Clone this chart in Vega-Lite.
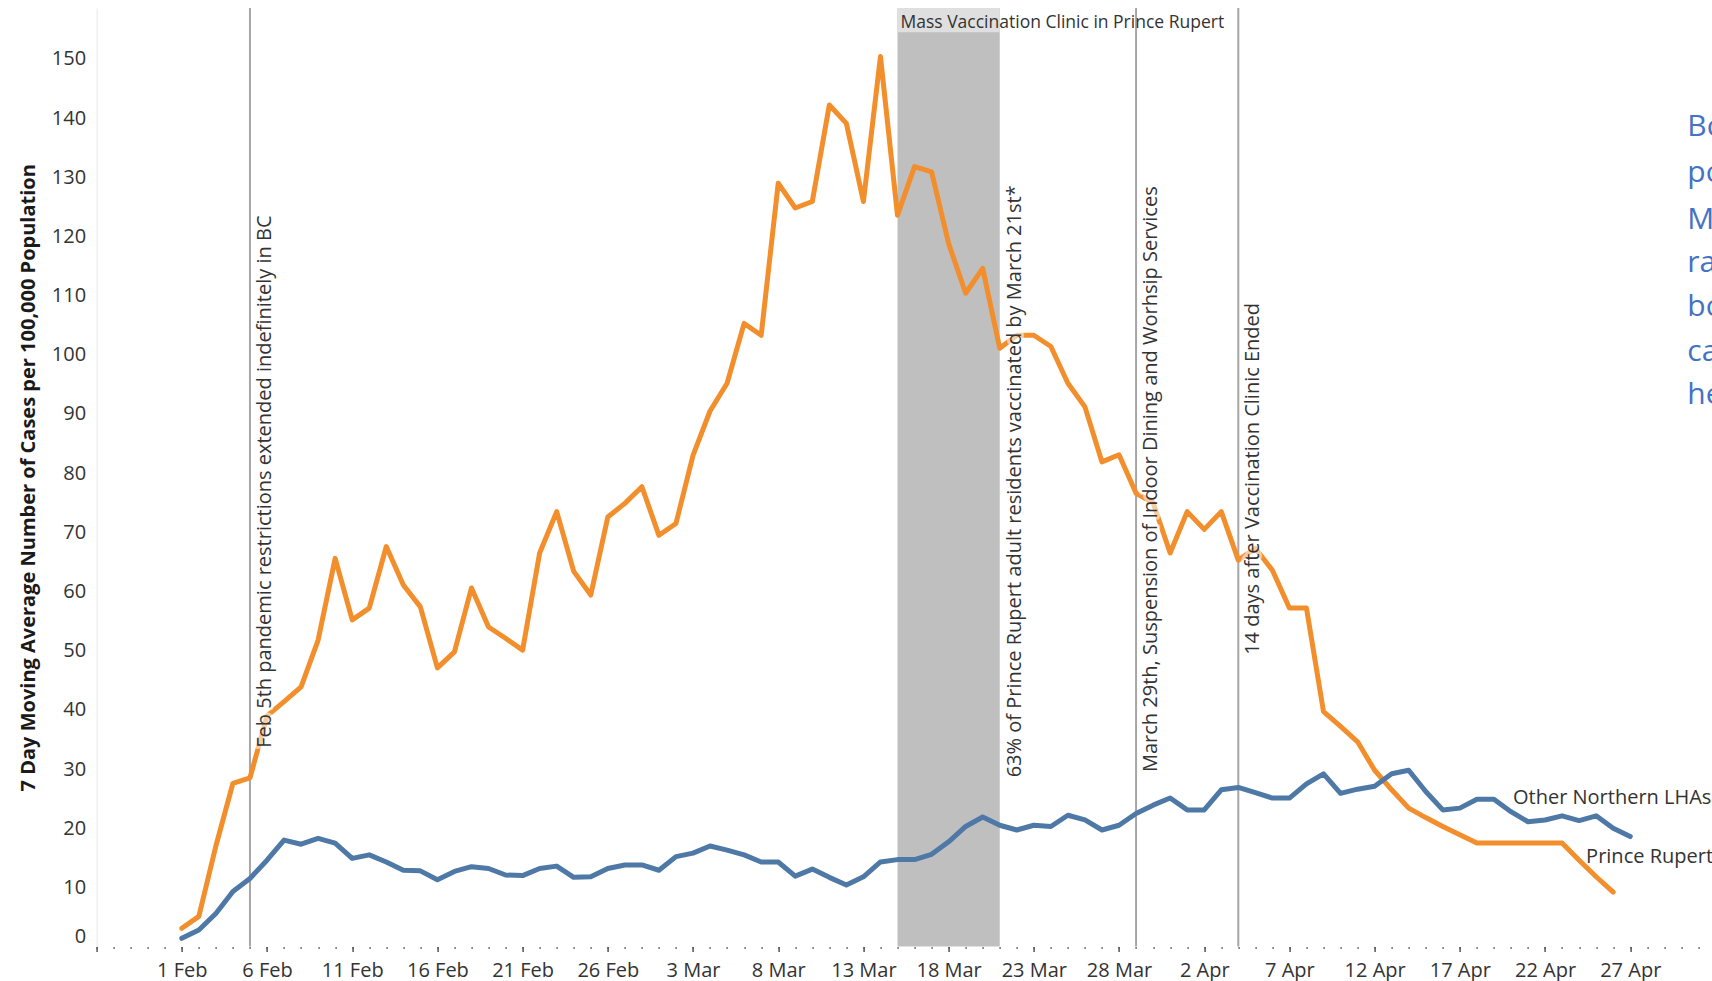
{
  "$schema": "https://vega.github.io/schema/vega-lite/v6.json",
  "width": 1601.8,
  "height": 938.6,
  "autosize": {"type": "none"},
  "padding": {"left": 96.6, "top": 8, "right": 13.6, "bottom": 34.4},
  "background": "white",
  "config": {"view": {"stroke": null}, "font": "Open Sans"},
  "datasets": {
    "cases": [
      {"date":"2021-02-01","series":"Prince Rupert","value":3.1},
      {"date":"2021-02-02","series":"Prince Rupert","value":5.1},
      {"date":"2021-02-03","series":"Prince Rupert","value":17},
      {"date":"2021-02-04","series":"Prince Rupert","value":27.6},
      {"date":"2021-02-05","series":"Prince Rupert","value":28.5},
      {"date":"2021-02-06","series":"Prince Rupert","value":39},
      {"date":"2021-02-07","series":"Prince Rupert","value":41.4},
      {"date":"2021-02-08","series":"Prince Rupert","value":43.9},
      {"date":"2021-02-09","series":"Prince Rupert","value":51.8},
      {"date":"2021-02-10","series":"Prince Rupert","value":65.6},
      {"date":"2021-02-11","series":"Prince Rupert","value":55.2},
      {"date":"2021-02-12","series":"Prince Rupert","value":57.2},
      {"date":"2021-02-13","series":"Prince Rupert","value":67.6},
      {"date":"2021-02-14","series":"Prince Rupert","value":61.1},
      {"date":"2021-02-15","series":"Prince Rupert","value":57.4},
      {"date":"2021-02-16","series":"Prince Rupert","value":47.1},
      {"date":"2021-02-17","series":"Prince Rupert","value":49.8},
      {"date":"2021-02-18","series":"Prince Rupert","value":60.6},
      {"date":"2021-02-19","series":"Prince Rupert","value":54},
      {"date":"2021-02-20","series":"Prince Rupert","value":52.1},
      {"date":"2021-02-21","series":"Prince Rupert","value":50.1},
      {"date":"2021-02-22","series":"Prince Rupert","value":66.5},
      {"date":"2021-02-23","series":"Prince Rupert","value":73.5},
      {"date":"2021-02-24","series":"Prince Rupert","value":63.4},
      {"date":"2021-02-25","series":"Prince Rupert","value":59.4},
      {"date":"2021-02-26","series":"Prince Rupert","value":72.6},
      {"date":"2021-02-27","series":"Prince Rupert","value":74.9},
      {"date":"2021-02-28","series":"Prince Rupert","value":77.7},
      {"date":"2021-03-01","series":"Prince Rupert","value":69.5},
      {"date":"2021-03-02","series":"Prince Rupert","value":71.5},
      {"date":"2021-03-03","series":"Prince Rupert","value":83},
      {"date":"2021-03-04","series":"Prince Rupert","value":90.5},
      {"date":"2021-03-05","series":"Prince Rupert","value":95.2},
      {"date":"2021-03-06","series":"Prince Rupert","value":105.3},
      {"date":"2021-03-07","series":"Prince Rupert","value":103.3},
      {"date":"2021-03-08","series":"Prince Rupert","value":129},
      {"date":"2021-03-09","series":"Prince Rupert","value":124.8},
      {"date":"2021-03-10","series":"Prince Rupert","value":125.9},
      {"date":"2021-03-11","series":"Prince Rupert","value":142.2},
      {"date":"2021-03-12","series":"Prince Rupert","value":139.1},
      {"date":"2021-03-13","series":"Prince Rupert","value":125.9},
      {"date":"2021-03-14","series":"Prince Rupert","value":150.4},
      {"date":"2021-03-15","series":"Prince Rupert","value":123.6},
      {"date":"2021-03-16","series":"Prince Rupert","value":131.8},
      {"date":"2021-03-17","series":"Prince Rupert","value":130.9},
      {"date":"2021-03-18","series":"Prince Rupert","value":118.8},
      {"date":"2021-03-19","series":"Prince Rupert","value":110.4},
      {"date":"2021-03-20","series":"Prince Rupert","value":114.6},
      {"date":"2021-03-21","series":"Prince Rupert","value":101.1},
      {"date":"2021-03-22","series":"Prince Rupert","value":103.3},
      {"date":"2021-03-23","series":"Prince Rupert","value":103.3},
      {"date":"2021-03-24","series":"Prince Rupert","value":101.4},
      {"date":"2021-03-25","series":"Prince Rupert","value":95.2},
      {"date":"2021-03-26","series":"Prince Rupert","value":91.2},
      {"date":"2021-03-27","series":"Prince Rupert","value":81.9},
      {"date":"2021-03-28","series":"Prince Rupert","value":83.1},
      {"date":"2021-03-29","series":"Prince Rupert","value":76.6},
      {"date":"2021-03-30","series":"Prince Rupert","value":75},
      {"date":"2021-03-31","series":"Prince Rupert","value":66.5},
      {"date":"2021-04-01","series":"Prince Rupert","value":73.5},
      {"date":"2021-04-02","series":"Prince Rupert","value":70.5},
      {"date":"2021-04-03","series":"Prince Rupert","value":73.5},
      {"date":"2021-04-04","series":"Prince Rupert","value":65.3},
      {"date":"2021-04-05","series":"Prince Rupert","value":67.3},
      {"date":"2021-04-06","series":"Prince Rupert","value":63.6},
      {"date":"2021-04-07","series":"Prince Rupert","value":57.2},
      {"date":"2021-04-08","series":"Prince Rupert","value":57.2},
      {"date":"2021-04-09","series":"Prince Rupert","value":39.7},
      {"date":"2021-04-10","series":"Prince Rupert","value":37.2},
      {"date":"2021-04-11","series":"Prince Rupert","value":34.6},
      {"date":"2021-04-12","series":"Prince Rupert","value":29.8},
      {"date":"2021-04-13","series":"Prince Rupert","value":26.5},
      {"date":"2021-04-14","series":"Prince Rupert","value":23.4},
      {"date":"2021-04-15","series":"Prince Rupert","value":21.8},
      {"date":"2021-04-16","series":"Prince Rupert","value":20.3},
      {"date":"2021-04-17","series":"Prince Rupert","value":18.9},
      {"date":"2021-04-18","series":"Prince Rupert","value":17.5},
      {"date":"2021-04-19","series":"Prince Rupert","value":17.5},
      {"date":"2021-04-20","series":"Prince Rupert","value":17.5},
      {"date":"2021-04-21","series":"Prince Rupert","value":17.5},
      {"date":"2021-04-22","series":"Prince Rupert","value":17.5},
      {"date":"2021-04-23","series":"Prince Rupert","value":17.5},
      {"date":"2021-04-24","series":"Prince Rupert","value":14.6},
      {"date":"2021-04-25","series":"Prince Rupert","value":11.8},
      {"date":"2021-04-26","series":"Prince Rupert","value":9.2},
      {"date":"2021-02-01","series":"Other Northern LHAs","value":1.4},
      {"date":"2021-02-02","series":"Other Northern LHAs","value":2.8},
      {"date":"2021-02-03","series":"Other Northern LHAs","value":5.6},
      {"date":"2021-02-04","series":"Other Northern LHAs","value":9.3},
      {"date":"2021-02-05","series":"Other Northern LHAs","value":11.5},
      {"date":"2021-02-06","series":"Other Northern LHAs","value":14.6},
      {"date":"2021-02-07","series":"Other Northern LHAs","value":18},
      {"date":"2021-02-08","series":"Other Northern LHAs","value":17.3},
      {"date":"2021-02-09","series":"Other Northern LHAs","value":18.3},
      {"date":"2021-02-10","series":"Other Northern LHAs","value":17.5},
      {"date":"2021-02-11","series":"Other Northern LHAs","value":14.9},
      {"date":"2021-02-12","series":"Other Northern LHAs","value":15.5},
      {"date":"2021-02-13","series":"Other Northern LHAs","value":14.3},
      {"date":"2021-02-14","series":"Other Northern LHAs","value":12.9},
      {"date":"2021-02-15","series":"Other Northern LHAs","value":12.8},
      {"date":"2021-02-16","series":"Other Northern LHAs","value":11.3},
      {"date":"2021-02-17","series":"Other Northern LHAs","value":12.7},
      {"date":"2021-02-18","series":"Other Northern LHAs","value":13.5},
      {"date":"2021-02-19","series":"Other Northern LHAs","value":13.2},
      {"date":"2021-02-20","series":"Other Northern LHAs","value":12.1},
      {"date":"2021-02-21","series":"Other Northern LHAs","value":12},
      {"date":"2021-02-22","series":"Other Northern LHAs","value":13.2},
      {"date":"2021-02-23","series":"Other Northern LHAs","value":13.6},
      {"date":"2021-02-24","series":"Other Northern LHAs","value":11.7},
      {"date":"2021-02-25","series":"Other Northern LHAs","value":11.8},
      {"date":"2021-02-26","series":"Other Northern LHAs","value":13.2},
      {"date":"2021-02-27","series":"Other Northern LHAs","value":13.8},
      {"date":"2021-02-28","series":"Other Northern LHAs","value":13.8},
      {"date":"2021-03-01","series":"Other Northern LHAs","value":12.9},
      {"date":"2021-03-02","series":"Other Northern LHAs","value":15.2},
      {"date":"2021-03-03","series":"Other Northern LHAs","value":15.8},
      {"date":"2021-03-04","series":"Other Northern LHAs","value":17},
      {"date":"2021-03-05","series":"Other Northern LHAs","value":16.3},
      {"date":"2021-03-06","series":"Other Northern LHAs","value":15.5},
      {"date":"2021-03-07","series":"Other Northern LHAs","value":14.3},
      {"date":"2021-03-08","series":"Other Northern LHAs","value":14.3},
      {"date":"2021-03-09","series":"Other Northern LHAs","value":11.9},
      {"date":"2021-03-10","series":"Other Northern LHAs","value":13.1},
      {"date":"2021-03-11","series":"Other Northern LHAs","value":11.7},
      {"date":"2021-03-12","series":"Other Northern LHAs","value":10.4},
      {"date":"2021-03-13","series":"Other Northern LHAs","value":11.8},
      {"date":"2021-03-14","series":"Other Northern LHAs","value":14.3},
      {"date":"2021-03-15","series":"Other Northern LHAs","value":14.7},
      {"date":"2021-03-16","series":"Other Northern LHAs","value":14.7},
      {"date":"2021-03-17","series":"Other Northern LHAs","value":15.6},
      {"date":"2021-03-18","series":"Other Northern LHAs","value":17.7},
      {"date":"2021-03-19","series":"Other Northern LHAs","value":20.3},
      {"date":"2021-03-20","series":"Other Northern LHAs","value":21.9},
      {"date":"2021-03-21","series":"Other Northern LHAs","value":20.5},
      {"date":"2021-03-22","series":"Other Northern LHAs","value":19.7},
      {"date":"2021-03-23","series":"Other Northern LHAs","value":20.5},
      {"date":"2021-03-24","series":"Other Northern LHAs","value":20.3},
      {"date":"2021-03-25","series":"Other Northern LHAs","value":22.2},
      {"date":"2021-03-26","series":"Other Northern LHAs","value":21.4},
      {"date":"2021-03-27","series":"Other Northern LHAs","value":19.7},
      {"date":"2021-03-28","series":"Other Northern LHAs","value":20.5},
      {"date":"2021-03-29","series":"Other Northern LHAs","value":22.5},
      {"date":"2021-03-30","series":"Other Northern LHAs","value":23.9},
      {"date":"2021-03-31","series":"Other Northern LHAs","value":25.1},
      {"date":"2021-04-01","series":"Other Northern LHAs","value":23.1},
      {"date":"2021-04-02","series":"Other Northern LHAs","value":23.1},
      {"date":"2021-04-03","series":"Other Northern LHAs","value":26.5},
      {"date":"2021-04-04","series":"Other Northern LHAs","value":26.9},
      {"date":"2021-04-05","series":"Other Northern LHAs","value":26},
      {"date":"2021-04-06","series":"Other Northern LHAs","value":25.1},
      {"date":"2021-04-07","series":"Other Northern LHAs","value":25.1},
      {"date":"2021-04-08","series":"Other Northern LHAs","value":27.5},
      {"date":"2021-04-09","series":"Other Northern LHAs","value":29.2},
      {"date":"2021-04-10","series":"Other Northern LHAs","value":25.9},
      {"date":"2021-04-11","series":"Other Northern LHAs","value":26.6},
      {"date":"2021-04-12","series":"Other Northern LHAs","value":27.1},
      {"date":"2021-04-13","series":"Other Northern LHAs","value":29.2},
      {"date":"2021-04-14","series":"Other Northern LHAs","value":29.8},
      {"date":"2021-04-15","series":"Other Northern LHAs","value":26.2},
      {"date":"2021-04-16","series":"Other Northern LHAs","value":23.1},
      {"date":"2021-04-17","series":"Other Northern LHAs","value":23.4},
      {"date":"2021-04-18","series":"Other Northern LHAs","value":24.9},
      {"date":"2021-04-19","series":"Other Northern LHAs","value":24.9},
      {"date":"2021-04-20","series":"Other Northern LHAs","value":22.8},
      {"date":"2021-04-21","series":"Other Northern LHAs","value":21.1},
      {"date":"2021-04-22","series":"Other Northern LHAs","value":21.4},
      {"date":"2021-04-23","series":"Other Northern LHAs","value":22.1},
      {"date":"2021-04-24","series":"Other Northern LHAs","value":21.3},
      {"date":"2021-04-25","series":"Other Northern LHAs","value":22.1},
      {"date":"2021-04-26","series":"Other Northern LHAs","value":20},
      {"date":"2021-04-27","series":"Other Northern LHAs","value":18.6}
    ],
    "clinic": [{"start":"2021-03-15","end":"2021-03-21","label":"Mass Vaccination Clinic in Prince Rupert","value":156.1}],
    "events": [{"date":"2021-02-05"},{"date":"2021-03-29"},{"date":"2021-04-04"}],
    "notes": [
      {"date":"2021-02-05","value":33.6,"label":"Feb 5th pandemic restrictions extended indefinitely in BC"},
      {"date":"2021-03-21","value":28.6,"label":"63% of Prince Rupert adult residents vaccinated by March 21st*"},
      {"date":"2021-03-29","value":29.5,"label":"March 29th, Suspension of Indoor Dining and Worhsip Services"},
      {"date":"2021-04-04","value":49.3,"label":"14 days after Vaccination Clinic Ended"}
    ],
    "side": [
      {"date":"2021-04-30","value":138.5,"label":"Bo"},
      {"date":"2021-04-30","value":130.7,"label":"po"},
      {"date":"2021-04-30","value":122.8,"label":"M"},
      {"date":"2021-04-30","value":115.5,"label":"ra"},
      {"date":"2021-04-30","value":108.1,"label":"bo"},
      {"date":"2021-04-30","value":100.5,"label":"ca"},
      {"date":"2021-04-30","value":93.2,"label":"he"}
    ]
  },
  "resolve": {"axis": {"x": "independent", "y": "independent"}},
  "layer": [
    {
      "data": {"name": "clinic"},
      "mark": {"type": "rect", "color": "#BFBFBF"},
      "encoding": {
        "x": {"field": "start", "type": "temporal",
          "scale": {"type": "utc", "domain": [1611705600000, 1619827200000], "nice": false},
          "axis": {"orient": "bottom", "tickCount": {"interval": "day", "step": 1}, "labels": false, "domain": false, "grid": false, "ticks": true, "tickSize": 2, "tickWidth": 1.5, "tickColor": "#777777", "title": null}},
        "x2": {"field": "end"}
      }
    },
    {
      "data": {"name": "clinic"},
      "mark": {"type": "rect", "color": "#DFDFDF"},
      "encoding": {
        "x": {"field": "start", "type": "temporal", "scale": {"type": "utc", "domain": [1611705600000, 1619827200000], "nice": false}, "axis": null},
        "x2": {"field": "end"},
        "y": {"datum": 154.5, "type": "quantitative", "scale": {"domain": [0, 158.6], "nice": false, "zero": false}, "axis": null},
        "y2": {"datum": 158.6}
      }
    },
    {
      "data": {"name": "events"},
      "mark": {"type": "rule", "color": "#A6A6A6", "strokeWidth": 2},
      "encoding": {
        "x": {"field": "date", "type": "temporal", "scale": {"type": "utc", "domain": [1611705600000, 1619827200000], "nice": false}, "axis": null}
      }
    },
    {
      "data": {"name": "cases"},
      "mark": {"type": "line", "strokeWidth": 5, "strokeJoin": "round", "strokeCap": "round"},
      "encoding": {
        "x": {"field": "date", "type": "temporal",
          "scale": {"type": "utc", "domain": [1611705600000, 1619827200000], "nice": false},
          "axis": {"orient": "bottom",
            "values": [1611705600000,1612137600000,1612569600000,1613001600000,1613433600000,1613865600000,1614297600000,1614729600000,1615161600000,1615593600000,1616025600000,1616457600000,1616889600000,1617321600000,1617753600000,1618185600000,1618617600000,1619049600000,1619481600000],
            "labelExpr": "datum.value < 1612137600000 ? '' : utcFormat(datum.value, '%-d %b')",
            "tickSize": 5, "tickWidth": 1.5, "tickColor": "#555555", "domain": false, "grid": false,
            "labelFontSize": 20, "labelColor": "#333333", "labelPadding": 9, "labelOverlap": false, "labelBound": false, "title": null}},
        "y": {"field": "value", "type": "quantitative",
          "scale": {"domain": [0, 158.6], "nice": false, "zero": false},
          "axis": {"values": [0,10,20,30,40,50,60,70,80,90,100,110,120,130,140,150],
            "labelFontSize": 20, "labelColor": "#333333", "labelFlush": true, "ticks": false, "labelPadding": 11,
            "domain": true, "domainColor": "#E8E8E8", "domainWidth": 1, "grid": false,
            "title": "7 Day Moving Average Number of Cases per 100,000 Population",
            "titleFontSize": 20, "titleFontWeight": "bold", "titleColor": "#1A1A1A", "titlePadding": 13}},
        "color": {"field": "series", "type": "nominal",
          "scale": {"domain": ["Prince Rupert", "Other Northern LHAs"], "range": ["#F28E2B", "#4E79A7"]},
          "legend": null}
      }
    },
    {
      "data": {"name": "notes"},
      "mark": {"type": "text", "angle": 270, "align": "left", "baseline": "middle", "dy": 15, "fontSize": 20, "color": "white", "stroke": "white", "strokeWidth": 6, "opacity": 0.55, "strokeJoin": "round"},
      "encoding": {
        "x": {"field": "date", "type": "temporal", "scale": {"type": "utc", "domain": [1611705600000, 1619827200000], "nice": false}, "axis": null},
        "y": {"field": "value", "type": "quantitative", "scale": {"domain": [0, 158.6], "nice": false, "zero": false}, "axis": null},
        "text": {"field": "label"}
      }
    },
    {
      "data": {"name": "notes"},
      "mark": {"type": "text", "angle": 270, "align": "left", "baseline": "middle", "dy": 15, "fontSize": 20, "color": "#333333"},
      "encoding": {
        "x": {"field": "date", "type": "temporal", "scale": {"type": "utc", "domain": [1611705600000, 1619827200000], "nice": false}, "axis": null},
        "y": {"field": "value", "type": "quantitative", "scale": {"domain": [0, 158.6], "nice": false, "zero": false}, "axis": null},
        "text": {"field": "label"}
      }
    },
    {
      "data": {"name": "clinic"},
      "mark": {"type": "text", "align": "left", "baseline": "middle", "dx": 3, "fontSize": 17.5, "color": "#333333"},
      "encoding": {
        "x": {"field": "start", "type": "temporal", "scale": {"type": "utc", "domain": [1611705600000, 1619827200000], "nice": false}, "axis": null},
        "y": {"field": "value", "type": "quantitative", "scale": {"domain": [0, 158.6], "nice": false, "zero": false}, "axis": null},
        "text": {"field": "label"}
      }
    },
    {
      "data": {"values": [{"date": "2021-04-20", "value": 25.1, "label": "Other Northern LHAs"}]},
      "mark": {"type": "text", "align": "left", "baseline": "middle", "dx": 2, "fontSize": 20, "color": "#333333"},
      "encoding": {
        "x": {"field": "date", "type": "temporal", "scale": {"type": "utc", "domain": [1611705600000, 1619827200000], "nice": false}, "axis": null},
        "y": {"field": "value", "type": "quantitative", "scale": {"domain": [0, 158.6], "nice": false, "zero": false}, "axis": null},
        "text": {"field": "label"}
      }
    },
    {
      "data": {"values": [{"date": "2021-04-24", "value": 15.2, "label": "Prince Rupert"}]},
      "mark": {"type": "text", "align": "left", "baseline": "middle", "dx": 7, "fontSize": 20, "color": "#333333"},
      "encoding": {
        "x": {"field": "date", "type": "temporal", "scale": {"type": "utc", "domain": [1611705600000, 1619827200000], "nice": false}, "axis": null},
        "y": {"field": "value", "type": "quantitative", "scale": {"domain": [0, 158.6], "nice": false, "zero": false}, "axis": null},
        "text": {"field": "label"}
      }
    },
    {
      "data": {"name": "side"},
      "mark": {"type": "text", "align": "left", "baseline": "middle", "dx": 6, "fontSize": 30, "color": "#4472C4"},
      "encoding": {
        "x": {"field": "date", "type": "temporal", "scale": {"type": "utc", "domain": [1611705600000, 1619827200000], "nice": false}, "axis": null},
        "y": {"field": "value", "type": "quantitative", "scale": {"domain": [0, 158.6], "nice": false, "zero": false}, "axis": null},
        "text": {"field": "label"}
      }
    }
  ]
}
